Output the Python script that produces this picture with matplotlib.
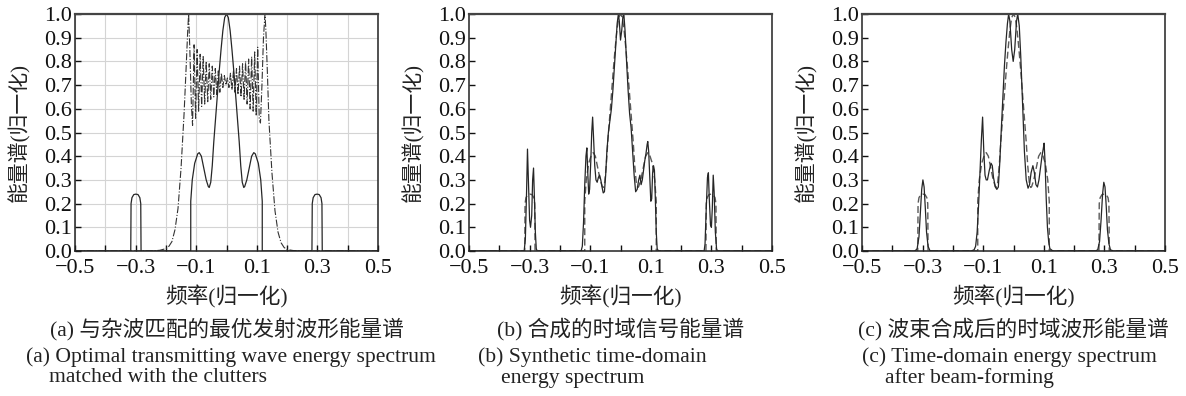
import matplotlib
matplotlib.use("Agg")
import matplotlib.pyplot as plt

# ---------------- data ----------------
x_ticks = [-0.5, -0.4, -0.3, -0.2, -0.1, 0.0, 0.1, 0.2, 0.3, 0.4, 0.5]
x_ticklabels = ["\u22120.5", "", "\u22120.3", "", "\u22120.1", "", "0.1", "", "0.3", "", "0.5"]
y_ticks = [0.0, 0.1, 0.2, 0.3, 0.4, 0.5, 0.6, 0.7, 0.8, 0.9, 1.0]
y_ticklabels = ["0.0", "0.1", "0.2", "0.3", "0.4", "0.5", "0.6", "0.7", "0.8", "0.9", "1.0"]

xlabel = "频率(归一化)"
ylabel = "能量谱(归一化)"
captions_cn = ["(a) 与杂波匹配的最优发射波形能量谱",
               "(b) 合成的时域信号能量谱",
               "(c) 波束合成后的时域波形能量谱"]
captions_en = [["(a) Optimal transmitting wave energy spectrum", "matched with the clutters"],
               ["(b) Synthetic time-domain", "energy spectrum"],
               ["(c) Time-domain energy spectrum", "after beam-forming"]]

# optimal transmitted spectrum (panel a solid, dashed in b and c)
opt_x = [-0.5, -0.316, -0.315, -0.312, -0.306, -0.299, -0.292, -0.286, -0.283, -0.282,
         -0.118, -0.118, -0.113, -0.105, -0.095, -0.090, -0.083, -0.075, -0.067, -0.060,
         -0.057, -0.052, -0.047, -0.042, -0.036, -0.030, -0.024, -0.018, -0.012, -0.006,
         0.0,
         0.006, 0.012, 0.018, 0.024, 0.030, 0.036, 0.042, 0.047, 0.052, 0.057,
         0.060, 0.067, 0.075, 0.083, 0.090, 0.095, 0.105, 0.113, 0.118, 0.118,
         0.282, 0.283, 0.286, 0.292, 0.299, 0.306, 0.312, 0.315, 0.316, 0.5]
opt_y = [0.0, 0.0, 0.20, 0.225, 0.238, 0.24, 0.238, 0.225, 0.20, 0.0,
         0.0, 0.21, 0.30, 0.37, 0.41, 0.415, 0.40, 0.35, 0.30, 0.272,
         0.268, 0.29, 0.36, 0.46, 0.56, 0.66, 0.76, 0.85, 0.93, 0.985,
         1.0,
         0.985, 0.93, 0.85, 0.76, 0.66, 0.56, 0.46, 0.36, 0.29, 0.268,
         0.272, 0.30, 0.35, 0.40, 0.415, 0.41, 0.37, 0.30, 0.21, 0.0,
         0.0, 0.20, 0.225, 0.238, 0.24, 0.238, 0.225, 0.20, 0.0, 0.0]

# clutter-matched spectrum (panel a dash-dot)
clut_x = [-0.5, -0.25, -0.22, -0.20, -0.19, -0.18, -0.17, -0.16, -0.15, -0.14, -0.133, -0.128,
          -0.125, -0.121, -0.116, -0.112,
          -0.107, -0.102, -0.097, -0.092, -0.087, -0.082, -0.077, -0.072, -0.067, -0.062,
          -0.057, -0.052, -0.047, -0.042, -0.037, -0.032, -0.027, -0.022, -0.017, -0.012,
          -0.007, -0.002, 0.003, 0.008, 0.013, 0.018, 0.023, 0.028, 0.033, 0.038,
          0.043, 0.048, 0.053, 0.058, 0.063, 0.068, 0.073, 0.078, 0.083, 0.088,
          0.093, 0.098, 0.103, 0.108, 0.112, 0.117, 0.122, 0.127,
          0.130, 0.135, 0.140, 0.150, 0.160, 0.170, 0.180, 0.190, 0.200, 0.220, 0.25, 0.5]
clut_y = [0.0, 0.0, 0.003, 0.01, 0.02, 0.04, 0.09, 0.18, 0.35, 0.58, 0.78, 0.93,
          1.0, 0.85, 0.62, 0.53,
          0.87, 0.56, 0.85, 0.59, 0.83, 0.61, 0.82, 0.62, 0.80, 0.63,
          0.79, 0.64, 0.78, 0.65, 0.77, 0.66, 0.76, 0.67, 0.75, 0.69,
          0.74, 0.70, 0.73, 0.69, 0.75, 0.68, 0.76, 0.67, 0.77, 0.66,
          0.78, 0.65, 0.79, 0.64, 0.80, 0.62, 0.81, 0.60, 0.82, 0.59,
          0.84, 0.57, 0.86, 0.56, 0.54, 0.70, 0.90, 1.0,
          0.93, 0.75, 0.55, 0.33, 0.17, 0.08, 0.035, 0.015, 0.006, 0.002, 0.0, 0.0]

# synthetic time-domain spectrum (panel b solid)
syn_x = [-0.5, -0.318, -0.314, -0.310, -0.307, -0.304, -0.300, -0.297, -0.293, -0.290,
         -0.287, -0.284, -0.281, -0.278, -0.275,
         -0.130, -0.126, -0.122, -0.118, -0.114, -0.111, -0.108, -0.105, -0.102, -0.098,
         -0.095, -0.092, -0.089, -0.085, -0.081, -0.077, -0.073, -0.069, -0.065, -0.061,
         -0.057, -0.053, -0.049, -0.045, -0.040, -0.035, -0.030, -0.025, -0.020, -0.015,
         -0.011, -0.007, -0.004, 0.0, 0.004, 0.008, 0.011, 0.015, 0.020, 0.025,
         0.030, 0.035, 0.040, 0.045, 0.050, 0.055, 0.060, 0.064, 0.068, 0.072,
         0.076, 0.080, 0.084, 0.088, 0.090, 0.093, 0.097, 0.100, 0.103, 0.106,
         0.109, 0.112, 0.115, 0.118, 0.121, 0.125,
         0.276, 0.279, 0.283, 0.287, 0.290, 0.293, 0.297, 0.300, 0.303, 0.306,
         0.309, 0.313, 0.317, 0.320, 0.5]
syn_y = [0.0, 0.0, 0.05, 0.25, 0.43, 0.30, 0.13, 0.10, 0.15, 0.30,
         0.35, 0.22, 0.08, 0.01, 0.0,
         0.0, 0.02, 0.12, 0.28, 0.40, 0.435, 0.33, 0.24, 0.26, 0.38,
         0.50, 0.565, 0.48, 0.36, 0.30, 0.29, 0.31, 0.32, 0.30, 0.27,
         0.245, 0.25, 0.32, 0.42, 0.50, 0.55, 0.60, 0.68, 0.78, 0.88,
         0.96, 1.0, 0.97, 0.89, 0.93, 0.99, 1.0, 0.93, 0.80, 0.68,
         0.58, 0.52, 0.42, 0.32, 0.25, 0.26, 0.30, 0.32, 0.28, 0.30,
         0.34, 0.38, 0.41, 0.45, 0.462, 0.42, 0.30, 0.21, 0.22, 0.33,
         0.36, 0.34, 0.22, 0.08, 0.01, 0.0,
         0.0, 0.03, 0.18, 0.31, 0.33, 0.22, 0.11, 0.10, 0.18, 0.32,
         0.25, 0.08, 0.01, 0.0, 0.0]

# beam-formed time-domain spectrum (panel c solid)
bf_x = [-0.5, -0.325, -0.318, -0.312, -0.307, -0.303, -0.299, -0.295, -0.291, -0.287,
        -0.282, -0.276, -0.270,
        -0.140, -0.130, -0.125, -0.120, -0.115, -0.110, -0.106, -0.102, -0.098, -0.094,
        -0.090, -0.086, -0.080, -0.074, -0.070, -0.066, -0.060, -0.055, -0.050, -0.045,
        -0.040, -0.035, -0.030, -0.025, -0.020, -0.016, -0.012, -0.006, -0.001, 0.004,
        0.010, 0.014, 0.019, 0.024, 0.030, 0.036, 0.042, 0.048, 0.053, 0.058,
        0.064, 0.069, 0.074, 0.079, 0.084, 0.089, 0.094, 0.098, 0.101, 0.104,
        0.108, 0.112, 0.116, 0.120, 0.130,
        0.270, 0.278, 0.284, 0.289, 0.294, 0.298, 0.302, 0.306, 0.310, 0.315,
        0.320, 0.330, 0.5]
bf_y = [0.0, 0.0, 0.01, 0.06, 0.17, 0.26, 0.30, 0.27, 0.18, 0.08,
        0.02, 0.002, 0.0,
        0.0, 0.005, 0.02, 0.08, 0.20, 0.35, 0.47, 0.565, 0.42, 0.32,
        0.30, 0.30, 0.34, 0.37, 0.36, 0.31, 0.27, 0.26, 0.27, 0.38,
        0.52, 0.65, 0.78, 0.88, 0.96, 1.0, 0.97, 0.85, 0.80, 0.85,
        0.97, 1.0, 0.95, 0.82, 0.62, 0.42, 0.30, 0.265, 0.28, 0.33,
        0.36, 0.33, 0.28, 0.27, 0.30, 0.35, 0.40, 0.43, 0.455, 0.38,
        0.22, 0.10, 0.04, 0.01, 0.0,
        0.0, 0.005, 0.04, 0.13, 0.24, 0.29, 0.27, 0.19, 0.09, 0.03,
        0.005, 0.0, 0.0]

# ---------------- figure ----------------
W, H = 1186, 396
fig = plt.figure(figsize=(W / 100, H / 100), dpi=100)

serif = ["Liberation Serif", "DejaVu Serif"]
mixed = ["Liberation Serif", "Noto Sans CJK SC", "DejaVu Sans"]

ax_left_px = [75, 469, 862]
ax_w_px, ax_top_px, ax_bot_px = 303, 14, 251

axes = []
for lp in ax_left_px:
    ax = fig.add_axes([lp / W, 1 - ax_bot_px / H, ax_w_px / W, (ax_bot_px - ax_top_px) / H])
    axes.append(ax)

for i, ax in enumerate(axes):
    ax.set_xlim(-0.5, 0.5)
    ax.set_ylim(0.0, 1.0)
    ax.set_xticks(x_ticks)
    ax.set_xticklabels(x_ticklabels, fontfamily=serif, fontsize=16)
    ax.set_yticks(y_ticks)
    ax.set_yticklabels(y_ticklabels, fontfamily=serif, fontsize=16)
    ax.tick_params(direction="in", length=4, width=1.0, colors="#111")
    ax.tick_params(axis="x", pad=6)
    ax.tick_params(axis="y", pad=2)
    for s in ["left", "bottom", "right"]:
        ax.spines[s].set_linewidth(1.1)
        ax.spines[s].set_color("#222")
    ax.spines["top"].set_linewidth(1.6)
    ax.spines["top"].set_color("#444")
    ax.set_ylabel(ylabel, fontfamily=mixed, fontsize=15, color="#222")
    ax.yaxis.set_label_coords(-0.149, 0.5)

axes[0].grid(True, color="#d4d4d4", linewidth=0.8)
axes[0].set_axisbelow(True)

solid_kw = dict(color="#262626", linewidth=0.9, solid_joinstyle="round")
dash_kw = dict(color="#5a5a5a", linewidth=1.0, dashes=(5, 2.5))

axes[0].plot(clut_x, clut_y, color="#333333", linewidth=0.8, linestyle="-.")
axes[0].plot(opt_x, opt_y, **solid_kw)

axes[1].plot(opt_x, opt_y, **dash_kw)
axes[1].plot(syn_x, syn_y, **solid_kw)

axes[2].plot(opt_x, opt_y, **dash_kw)
axes[2].plot(bf_x, bf_y, **solid_kw)

# captions
cap_fs = 15.6
for i, lp in enumerate(ax_left_px):
    cx = lp + ax_w_px / 2
    fig.text(cx / W, 1 - 297 / H, xlabel, ha="center", va="center",
             fontfamily=mixed, fontsize=cap_fs, color="#222")
    fig.text(cx / W, 1 - 329 / H, captions_cn[i], ha="center", va="center",
             fontfamily=mixed, fontsize=cap_fs, color="#222")

en_left_px = [26, 478, 862]
indent_px = 23
for i in range(3):
    fig.text(en_left_px[i] / W, 1 - 357 / H, captions_en[i][0], ha="left", va="center",
             fontfamily=serif, fontsize=cap_fs, color="#222")
    fig.text((en_left_px[i] + indent_px) / W, 1 - 378 / H, captions_en[i][1], ha="left",
             va="center", fontfamily=serif, fontsize=cap_fs, color="#222")

fig.savefig("out.png", dpi=100, facecolor="white")
